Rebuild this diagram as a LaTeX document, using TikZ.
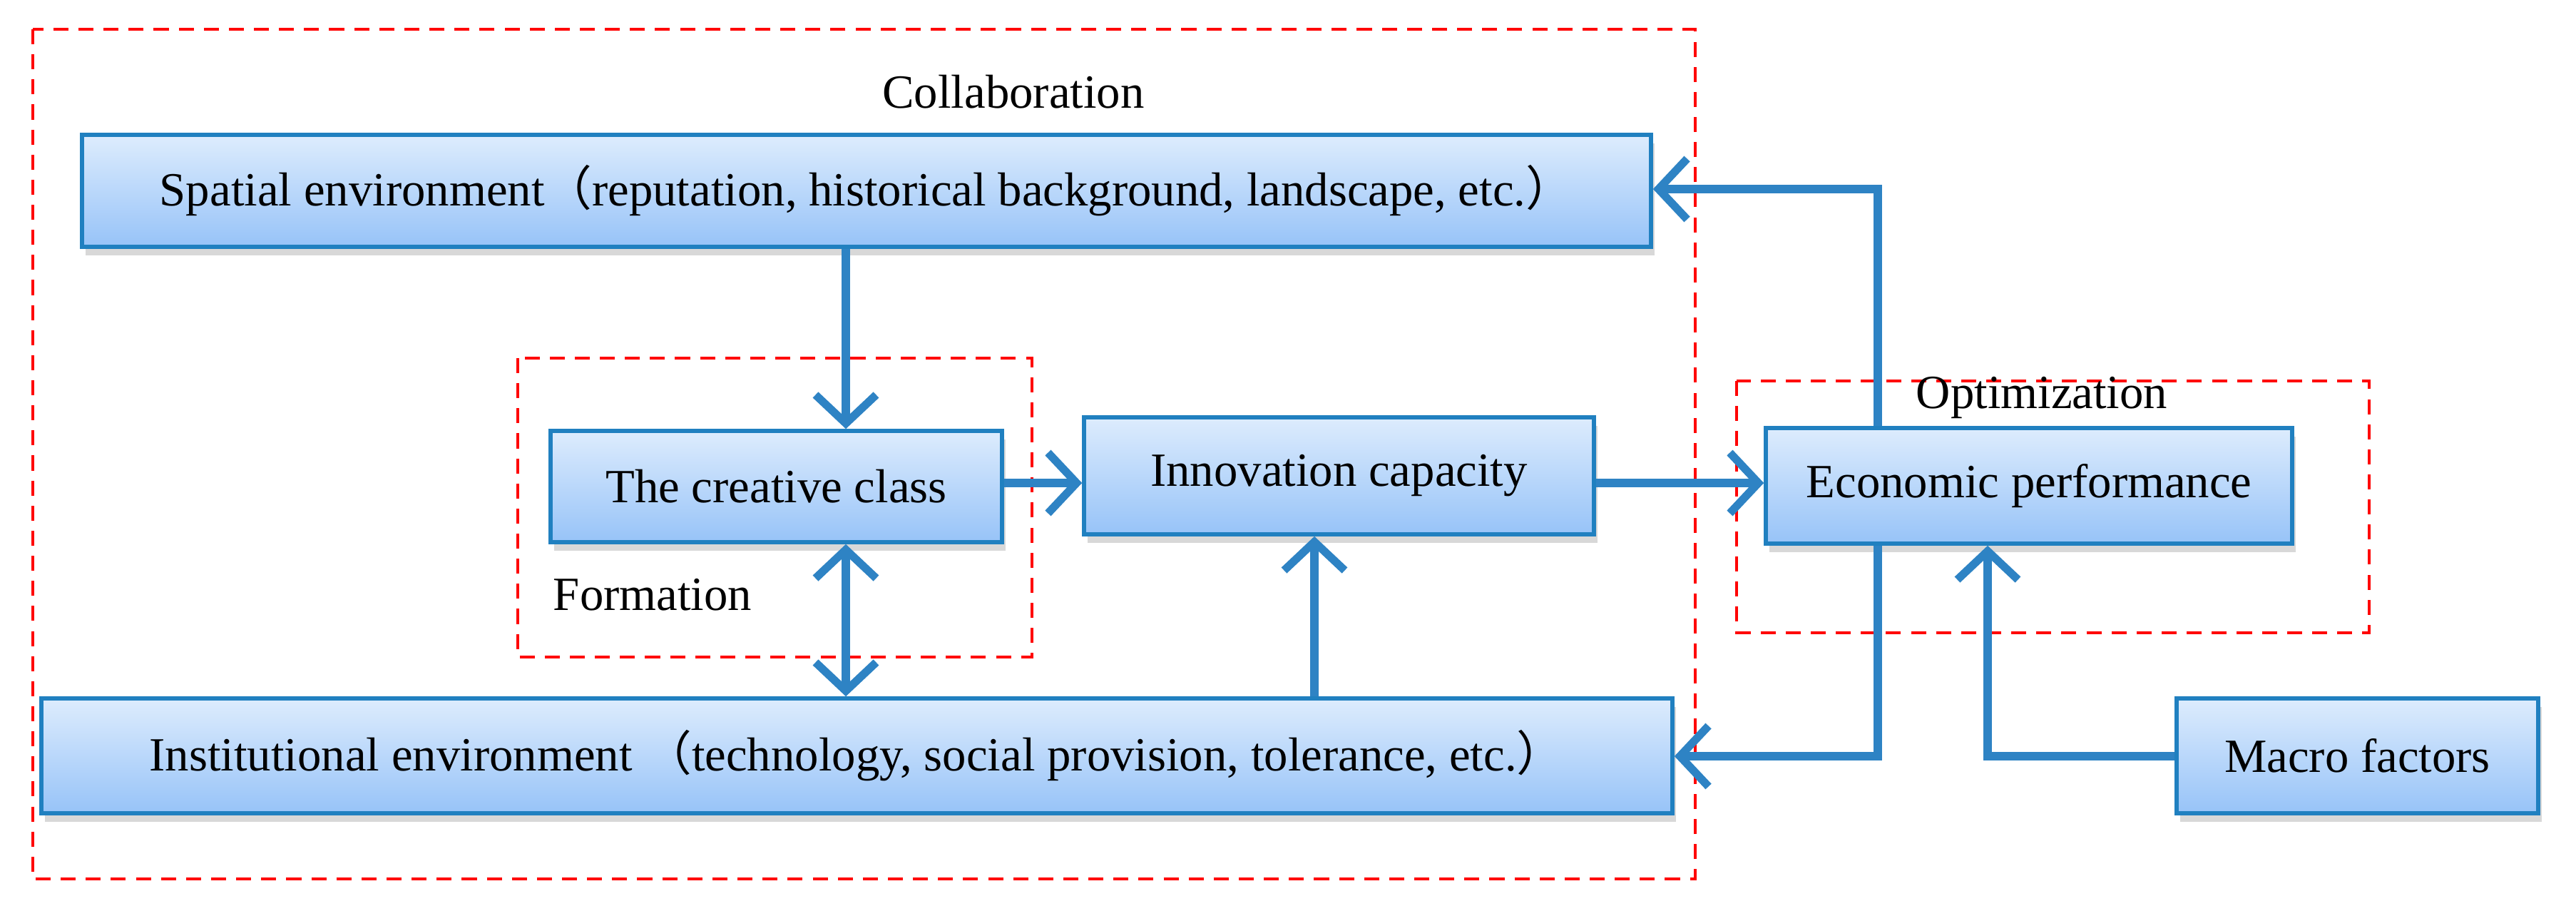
\documentclass[tikz,border=0pt]{standalone}
\usepackage{fontspec}
\setmainfont{Liberation Serif}
\newfontfamily\cjk{Noto Sans CJK SC}
\usetikzlibrary{arrows.meta,shadows}
\definecolor{bord}{HTML}{2080C0}
\definecolor{arrc}{HTML}{2E83C4}
\definecolor{gtop}{HTML}{DDECFD}
\definecolor{gbot}{HTML}{97C3F8}
\tikzset{
 box/.style={draw=bord,line width=1.6pt,top color=gtop,bottom color=gbot,inner sep=0pt,
   font=\fontsize{19}{21}\selectfont,drop shadow={shadow xshift=0.05cm,shadow yshift=-0.12cm,opacity=0.3}},
 tipb/.tip={Straight Barb[length=0.4cm,width=0.85cm,line width=3.2pt]},
 arr/.style={draw=arrc,line width=3.2pt,-tipb},
 darr/.style={draw=arrc,line width=3.2pt,tipb-tipb},
 grp/.style={draw=red,line width=1.1pt,dash pattern=on 6pt off 4pt},
 lbl/.style={font=\fontsize{19}{21}\selectfont,inner sep=0pt}
}
\begin{document}
\begin{tikzpicture}[x=1cm,y=-1cm]
\useasboundingbox[fill=white] (0,0) rectangle (36.12,12.90);
\draw[grp] (0.46,0.41) rectangle (23.77,12.32);
\draw[grp] (7.26,5.02) rectangle (14.47,9.21);
\draw[grp] (24.35,5.34) rectangle (33.22,8.87);
\node[box,minimum width=22cm,minimum height=1.57cm] (spatial) at (12.15,2.675)
 {Spatial environment{\cjk （}reputation, historical background, landscape, etc.{\cjk ）}};
\node[box,minimum width=6.33cm,minimum height=1.56cm] (creative) at (10.885,6.82) {The creative class};
\node[box,minimum width=7.15cm,minimum height=1.64cm] (innov) at (18.775,6.67) {Innovation capacity};
\node[box,minimum width=7.38cm,minimum height=1.62cm] (econ) at (28.45,6.81) {Economic performance};
\node[box,minimum width=22.87cm,minimum height=1.61cm] (inst) at (12.015,10.595)
 {Institutional environment {\cjk （}technology, social provision, tolerance, etc.{\cjk ）}};
\node[box,minimum width=5.07cm,minimum height=1.61cm] (macro) at (33.055,10.595) {Macro factors};
\node[lbl] (collab) at (14.21,1.29) {Collaboration};
\node[lbl] (optim) at (28.63,5.57) {Optimization};
\node[lbl] (form) at (9.15,8.34) {Formation};
\coordinate (xa) at (11.86,0);
\coordinate (xb) at (18.43,0);
\coordinate (xc) at (26.33,0);
\coordinate (xd) at (27.87,0);
\coordinate (ya) at (0,6.77);
\coordinate (yb) at (0,2.65);
\coordinate (yc) at (0,10.6);
\draw[arr] (spatial.south -| xa) -- (creative.north -| xa);
\draw[darr] (creative.south -| xa) -- (inst.north -| xa);
\draw[arr] (inst.north -| xb) -- (innov.south -| xb);
\draw[arr] (creative.east |- ya) -- (innov.west |- ya);
\draw[arr] (innov.east |- ya) -- (econ.west |- ya);
\draw[arr] (econ.north -| xc) -- (xc |- yb) -- (spatial.east |- yb);
\draw[arr] (econ.south -| xc) -- (xc |- yc) -- (inst.east |- yc);
\draw[arr] (macro.west |- yc) -- (xd |- yc) -- (econ.south -| xd);
\end{tikzpicture}
\end{document}
